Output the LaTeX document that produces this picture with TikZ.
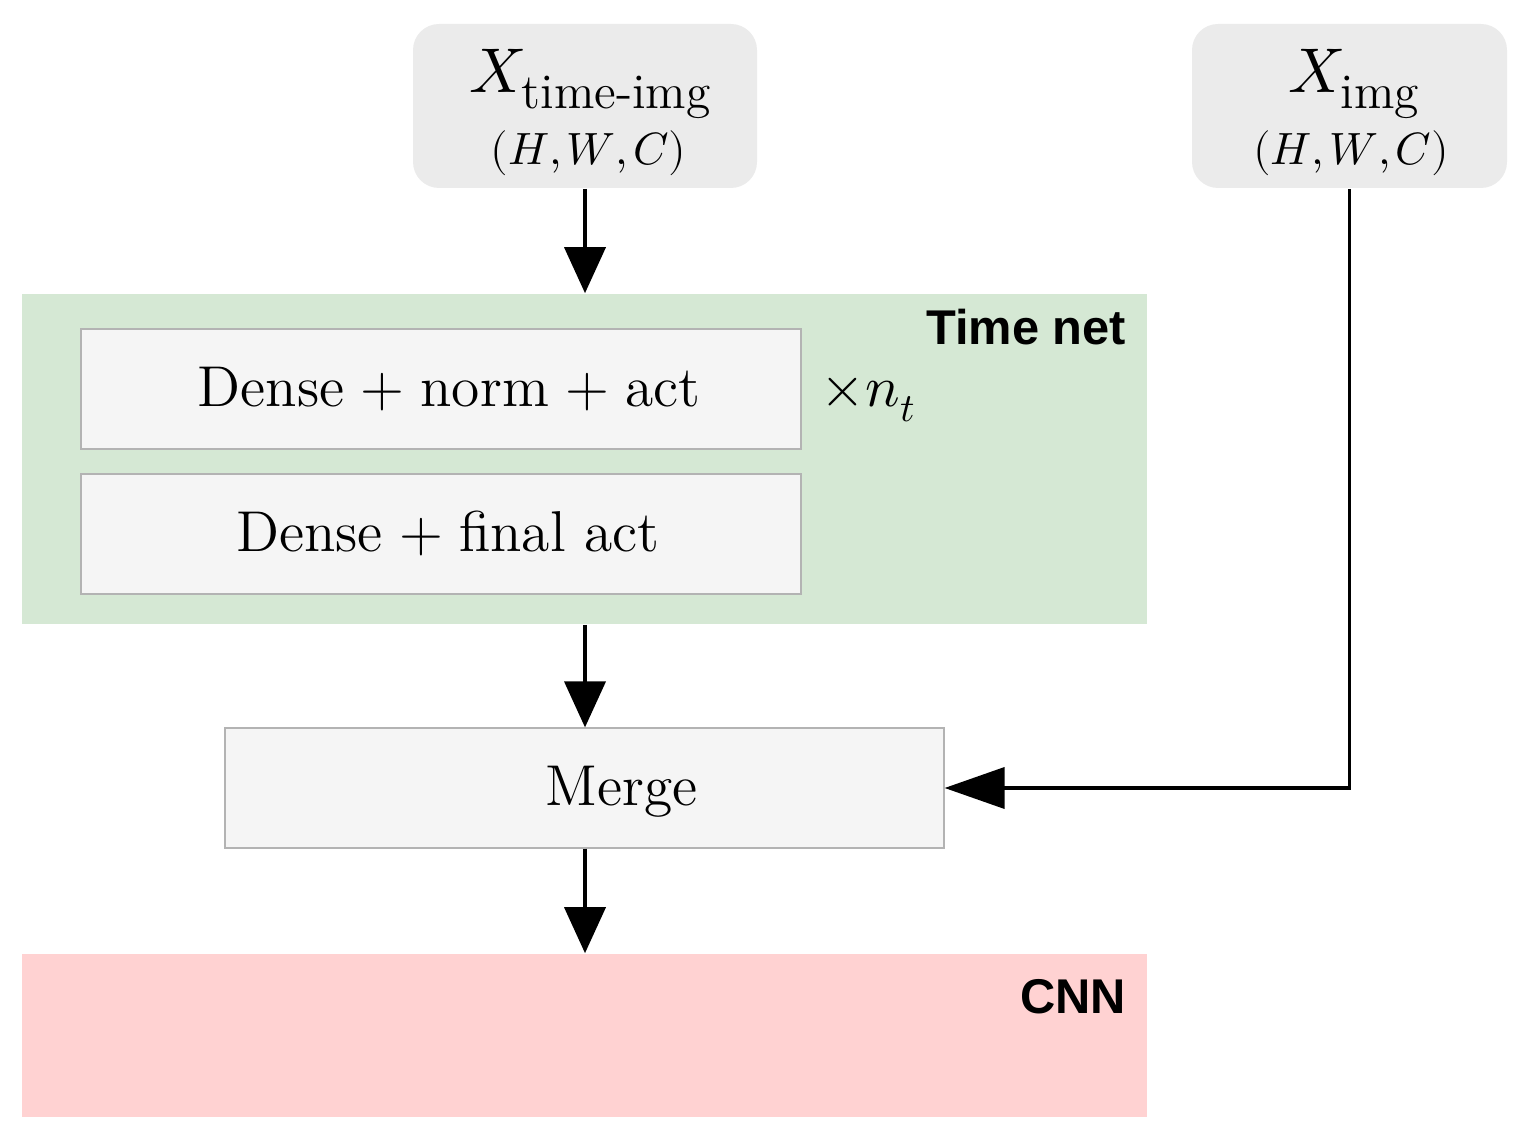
\documentclass[tikz,border=0pt]{standalone}
\usepackage{fontspec}
\usepackage{unicode-math}
\setmathfont{Latin Modern Math}
\newfontfamily\hv{Liberation Sans}
\usetikzlibrary{arrows.meta}
\definecolor{grayfill}{HTML}{EBEBEB}
\definecolor{greenfill}{HTML}{D5E8D4}
\definecolor{lightfill}{HTML}{F5F5F5}
\definecolor{boxline}{HTML}{B3B3B3}
\definecolor{redfill}{HTML}{FFD2D2}
\begin{document}
\begin{tikzpicture}[x=0.25pt,y=-0.25pt,
  inbox/.style={rounded corners=6.5pt, fill=grayfill, draw=none, inner sep=0pt,
    minimum height=41pt},
  region/.style={fill=#1, draw=none, inner sep=0pt, minimum width=281.25pt},
  layerbox/.style={fill=lightfill, draw=boxline, line width=0.3pt, inner sep=0pt,
    minimum height=30pt},
  layertext/.style={anchor=base, inner sep=0pt, font=\fontsize{14.4}{17}\selectfont},
  bigmath/.style={anchor=base, inner sep=0pt, font=\fontsize{15.8}{19}\selectfont},
  dimmath/.style={anchor=base, inner sep=0pt, font=\fontsize{11.3}{13}\selectfont},
  tag/.style={anchor=base east, inner sep=0pt, font=\hv\bfseries\fontsize{12.2}{14}\selectfont},
  arr/.style={line width=0.95pt, -{Triangle[width=10.25pt,length=11.5pt]}},
  arrh/.style={line width=0.95pt, -{Triangle[width=10.25pt,length=15pt]}},
]
\useasboundingbox (0,0) rectangle (1530,1142);
% input boxes
\node[inbox, minimum width=86pt] (xt) at (585,106) {};
\node[inbox, minimum width=78.75pt] (xi) at (1349.5,106) {};
\node[bigmath] (xtl) at (591,93) {$X_{\hbox{\fontsize{12.4}{14}\selectfont time-img}}$};
\node[dimmath] (xtd) at (588.5,165) {$(H{,}\mkern2mu W{,}\mkern2mu C)$};
\node[bigmath] (xil) at (1354.5,93) {$X_{\hbox{\fontsize{12.4}{14}\selectfont img}}$};
\node[dimmath] (xid) at (1351,165) {$(H{,}\mkern2mu W{,}\mkern2mu C)$};
% time net
\node[region=greenfill, minimum height=82.5pt] (tn) at (584.5,459) {};
\node[tag] (tnl) at (1127,345) {Time net};
\node[layerbox, minimum width=180pt] (d1) at (441,389) {};
\node[layertext] (d1t) at (449,407) {Dense\kern0.28em+\kern0.28em norm\kern0.28em+\kern0.28em act};
\node[layerbox, minimum width=180pt] (d2) at (441,534) {};
\node[layertext] (d2t) at (448,552) {Dense\kern0.28em+\kern0.28em final act};
\node[anchor=base west, inner sep=0pt, font=\fontsize{14.4}{17}\selectfont] (rep) at (820,407) {$\times n_t$};
% merge
\node[layerbox, minimum width=179.75pt] (mg) at (584.5,788) {};
\node[layertext] (mgt) at (621.5,805) {Merge};
% cnn
\node[region=redfill, minimum height=40.75pt] (cnn) at (584.5,1035.5) {};
\node[tag] (cnnl) at (1127,1013) {CNN};
% arrows
\draw[arr] (xt.south) -- (xt.south |- tn.north);
\draw[arr] (tn.south -| xt.south) -- (xt.south |- mg.north);
\draw[arr] (mg.south -| xt.south) -- (xt.south |- cnn.north);
\draw[arrh] (xi.south) |- (mg.east);
\end{tikzpicture}
\end{document}
